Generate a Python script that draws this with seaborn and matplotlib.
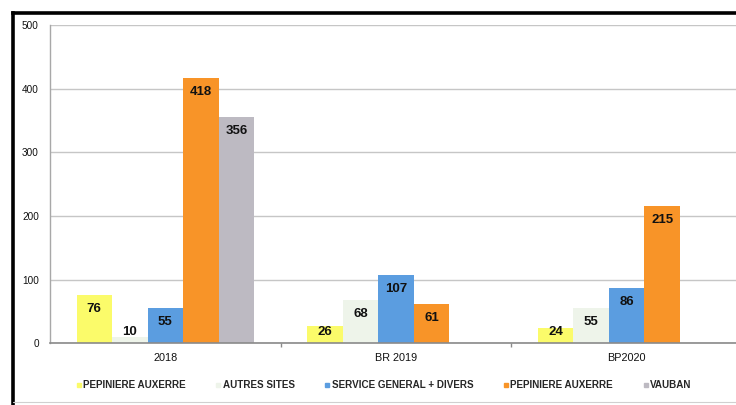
import matplotlib
matplotlib.use("Agg")
import matplotlib.pyplot as plt
from matplotlib.lines import Line2D
import numpy as np
import pandas as pd
import seaborn as sns

# Periods and series
periods = ["2018", "BR 2019", "BP2020"]
series_labels = ["PEPINIERE AUXERRE", "AUTRES SITES", "SERVICE GENERAL + DIVERS",
                 "PEPINIERE AUXERRE", "VAUBAN"]
series_keys = ["s1", "s2", "s3", "s4", "s5"]
s1 = [76, 26, 24]
s2 = [10, 68, 55]
s3 = [55, 107, 86]
s4 = [418, 61, 215]
s5 = [356, np.nan, np.nan]
colors = ["#fbfb6a", "#eef4ea", "#5b9de0", "#f89428", "#bdbac2"]
y_ticks = [0, 100, 200, 300, 400, 500]

rows = []
for key, vals in zip(series_keys, [s1, s2, s3, s4, s5]):
    for p, v in zip(periods, vals):
        rows.append({"period": p, "series": key, "value": v})
df = pd.DataFrame(rows)

sns.set_theme(style="white")
plt.rcParams["font.family"] = ["Liberation Sans", "DejaVu Sans"]

fig = plt.figure(figsize=(7.36, 4.05), dpi=100)
ax = fig.add_axes([50 / 736, 62 / 405, 692 / 736, 317.5 / 405])

sns.barplot(data=df, x="period", y="value", hue="series", order=periods,
            hue_order=series_keys, palette=colors, width=0.77, gap=0,
            linewidth=0, saturation=1, errorbar=None, ax=ax, legend=False)

ax.set_xlim(-0.5, 2.5)
ax.set_ylim(0, 500)
ax.set_yticks(y_ticks)
ax.set_xlabel("")
ax.set_ylabel("")
ax.yaxis.grid(True, color="#c6c6c6", linewidth=1.0)
ax.set_axisbelow(True)
for side in ["top", "right"]:
    ax.spines[side].set_visible(False)
ax.spines["left"].set_color("#a8a8a8")
ax.spines["left"].set_linewidth(1.0)
ax.spines["bottom"].set_color("#8a8a8a")
ax.spines["bottom"].set_linewidth(1.2)
ax.tick_params(axis="y", length=0, pad=8, labelsize=7.2, colors="#111111")
ax.tick_params(axis="x", length=0, pad=7, labelsize=7.8, colors="#111111")
ax.set_xticks([0.5, 1.5], minor=True)
ax.tick_params(axis="x", which="minor", length=3, color="#8a8a8a", width=1, bottom=True)

# Value labels near the top of each bar
for cont in ax.containers:
    for patch, v in zip(cont.patches, cont.datavalues):
        if np.isnan(v) or patch.get_height() == 0:
            continue
        x = patch.get_x() + patch.get_width() / 2
        y = max(v - 22, 17)
        ax.text(x, y, f"{v:.0f}", ha="center", va="center", fontsize=9.5,
                fontweight="bold", color="#111111")

handles = [Line2D([], [], marker="s", linestyle="none", markersize=2.6,
                  markerfacecolor=c, markeredgecolor=c) for c in colors]
fig.legend(handles, series_labels, loc="center left", bbox_to_anchor=(68 / 736, 20 / 405),
           ncol=5, frameon=False, handlelength=0.4, handletextpad=0.25,
           columnspacing=3.1, prop={"weight": "bold", "size": 7.1})

# Outer frame
fig.add_artist(Line2D([13 / 736, 13 / 736], [0, 1 - 13 / 405], transform=fig.transFigure,
                      color="black", linewidth=2.6, solid_capstyle="projecting"))
fig.add_artist(Line2D([13 / 736, 1], [1 - 13 / 405, 1 - 13 / 405], transform=fig.transFigure,
                      color="black", linewidth=2.6, solid_capstyle="projecting"))
fig.add_artist(Line2D([13 / 736, 1], [3 / 405, 3 / 405], transform=fig.transFigure,
                      color="#d0d0d0", linewidth=0.8))

fig.savefig("out.png", dpi=100)
